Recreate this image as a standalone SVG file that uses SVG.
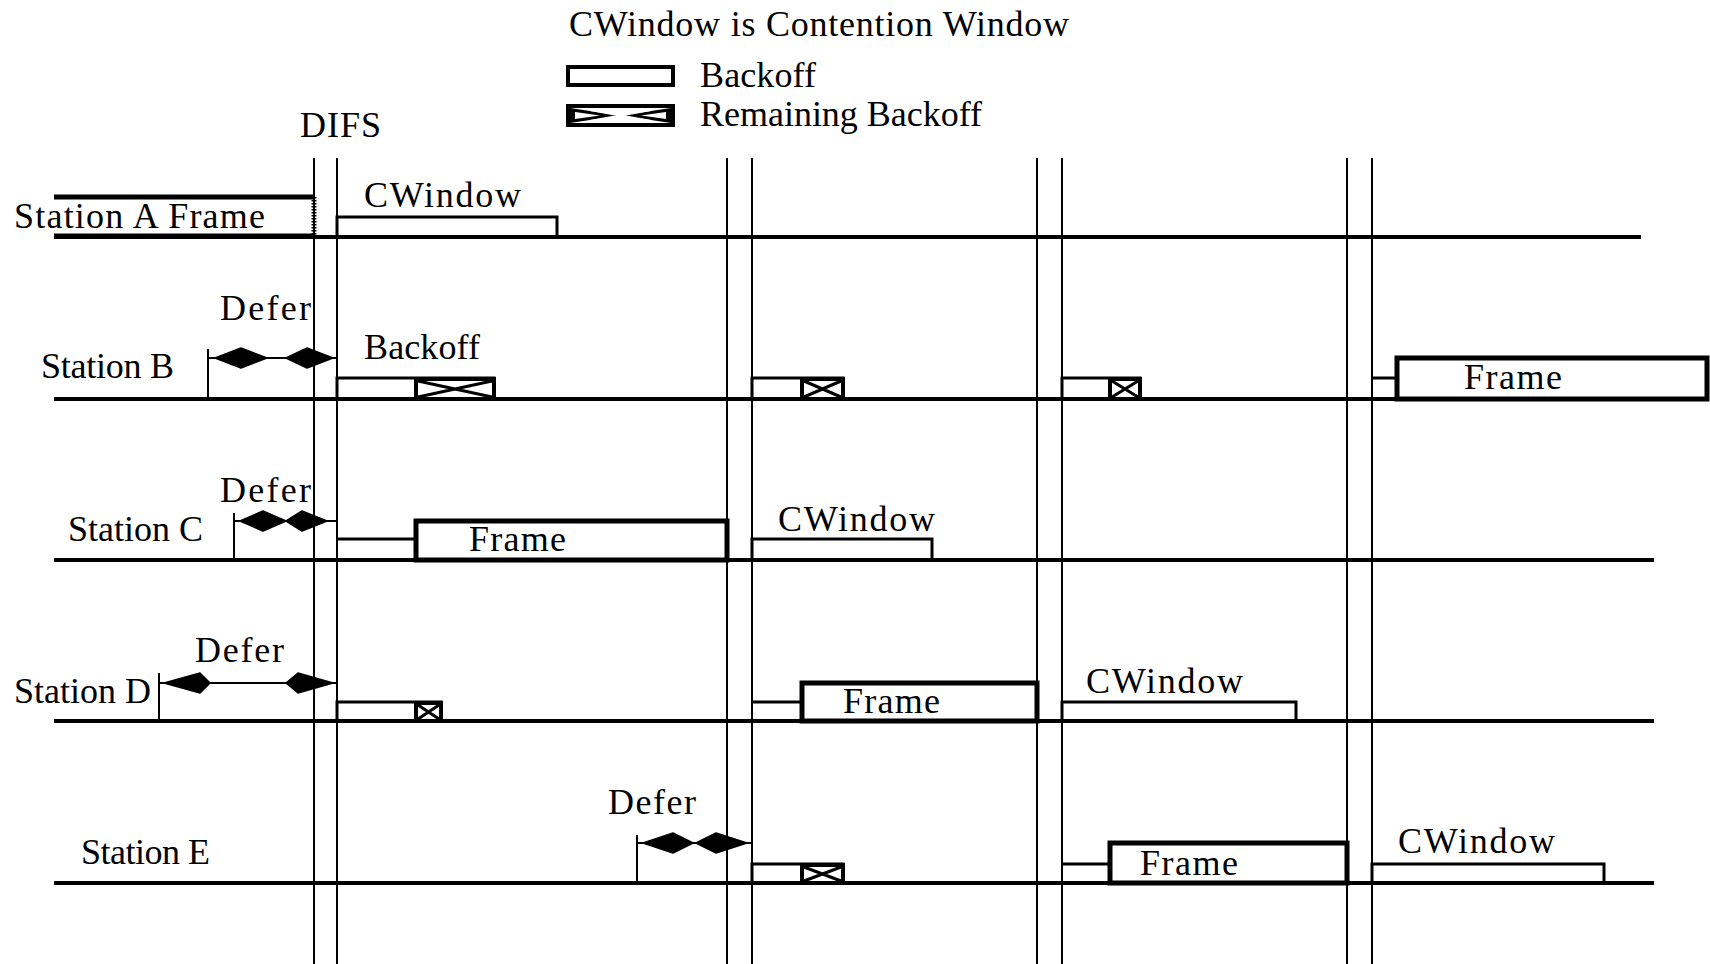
<svg xmlns="http://www.w3.org/2000/svg" width="1710" height="964" viewBox="0 0 1710 964">
<style>
text{font-family:"Liberation Serif","Times New Roman",serif;font-size:36px;fill:#000}
.base{stroke:#000;stroke-width:4;fill:none}
.vl{stroke:#000;stroke-width:2;fill:none}
.bo{stroke:#000;stroke-width:3;fill:none}
.fr{stroke:#000;stroke-width:5;fill:#fff}
.rem{stroke:#000;stroke-width:4;fill:#fff}
.x{stroke:#000;stroke-width:3;fill:none}
.thin{stroke:#000;stroke-width:2;fill:none}
.dia{fill:#000;stroke:#000;stroke-width:1.5;stroke-linejoin:round}
</style>
<rect width="1710" height="964" fill="#fff"/>

<g id="legend">
<text x="569" y="36" textLength="500" lengthAdjust="spacing">CWindow is Contention Window</text>
<rect x="568" y="67" width="105" height="18" class="rem"/>
<text x="700" y="87" textLength="116" lengthAdjust="spacing">Backoff</text>
<rect x="568" y="106" width="105" height="19" class="rem"/>
<polygon points="570,108 620,115.5 570,123" fill="#000"/>
<polygon points="671,108 621,115.5 671,123" fill="#000"/>
<polygon points="575,112 600,115.5 575,119" fill="#fff"/>
<polygon points="666,112 641,115.5 666,119" fill="#fff"/>
<line x1="590" y1="110" x2="651" y2="121" stroke="#fff" stroke-width="2"/>
<line x1="590" y1="121" x2="651" y2="110" stroke="#fff" stroke-width="2"/>
<text x="700" y="126" textLength="282" lengthAdjust="spacing">Remaining Backoff</text>
<text x="300" y="137" textLength="81" lengthAdjust="spacing">DIFS</text>
</g>

<g id="difs-lines">
<line x1="314" y1="158" x2="314" y2="964" class="vl"/>
<line x1="337" y1="158" x2="337" y2="964" class="vl"/>
<line x1="727" y1="158" x2="727" y2="964" class="vl"/>
<line x1="752" y1="158" x2="752" y2="964" class="vl"/>
<line x1="1037" y1="158" x2="1037" y2="964" class="vl"/>
<line x1="1062" y1="158" x2="1062" y2="964" class="vl"/>
<line x1="1347" y1="158" x2="1347" y2="964" class="vl"/>
<line x1="1372" y1="158" x2="1372" y2="964" class="vl"/>
</g>

<g id="station-a">
<line x1="54" y1="237" x2="1641" y2="237" class="base"/>
<line x1="54" y1="236" x2="314" y2="236" stroke="#000" stroke-width="5"/>
<line x1="54" y1="197" x2="314" y2="197" stroke="#000" stroke-width="5"/>
<line x1="314" y1="197" x2="314" y2="237" stroke="#000" stroke-width="5" stroke-dasharray="1.5 1.5"/>
<text x="14" y="228" textLength="251" lengthAdjust="spacing">Station A Frame</text>
<polyline points="337,237 337,217 557,217 557,237" class="bo"/>
<text x="364" y="207" textLength="157" lengthAdjust="spacing">CWindow</text>
</g>

<g id="station-b">
<line x1="54" y1="399" x2="1707" y2="399" class="base"/>
<text x="41" y="378" textLength="133" lengthAdjust="spacing">Station B</text>
<text x="220" y="320" textLength="91" lengthAdjust="spacing">Defer</text>
<text x="364" y="359" textLength="116" lengthAdjust="spacing">Backoff</text>
<polyline points="337,399 337,378 494,378 494,399" class="bo"/>
<rect x="416" y="379" width="78" height="20" class="rem"/>
<path d="M418,381 L492,397 M418,397 L492,381" class="x"/>
<polyline points="752,399 752,378 843,378 843,399" class="bo"/>
<rect x="802" y="379" width="41" height="20" class="rem"/>
<path d="M804,381 L841,397 M804,397 L841,381" class="x"/>
<polyline points="1062,399 1062,378 1140,378 1140,399" class="bo"/>
<rect x="1110" y="379" width="30" height="20" class="rem"/>
<path d="M1112,381 L1138,397 M1112,397 L1138,381" class="x"/>
<line x1="1372" y1="378" x2="1397" y2="378" class="bo"/>
<rect x="1397" y="358" width="310" height="41" class="fr"/>
<text x="1513" y="389" text-anchor="middle" textLength="98" lengthAdjust="spacing">Frame</text>
</g>

<g id="station-c">
<line x1="54" y1="560" x2="1654" y2="560" class="base"/>
<text x="68" y="541" textLength="135" lengthAdjust="spacing">Station C</text>
<text x="220" y="502" textLength="91" lengthAdjust="spacing">Defer</text>
<line x1="337" y1="539" x2="416" y2="539" class="bo"/>
<rect x="416" y="521" width="311" height="39" class="fr"/>
<text x="469" y="551" textLength="97" lengthAdjust="spacing">Frame</text>
<polyline points="752,560 752,539 932,539 932,560" class="bo"/>
<text x="778" y="531" textLength="157" lengthAdjust="spacing">CWindow</text>
</g>

<g id="station-d">
<line x1="54" y1="721" x2="1654" y2="721" class="base"/>
<text x="14" y="703" textLength="137" lengthAdjust="spacing">Station D</text>
<text x="195" y="662" textLength="89" lengthAdjust="spacing">Defer</text>
<polyline points="337,721 337,702 441,702 441,721" class="bo"/>
<rect x="416" y="703" width="25" height="18" class="rem"/>
<path d="M418,705 L439,719 M418,719 L439,705" class="x"/>
<line x1="752" y1="702" x2="802" y2="702" class="bo"/>
<rect x="802" y="683" width="235" height="38" class="fr"/>
<text x="843" y="713" textLength="97" lengthAdjust="spacing">Frame</text>
<polyline points="1062,721 1062,702 1296,702 1296,721" class="bo"/>
<text x="1086" y="693" textLength="157" lengthAdjust="spacing">CWindow</text>
</g>

<g id="station-e">
<line x1="54" y1="883" x2="1654" y2="883" class="base"/>
<text x="81" y="864" textLength="129" lengthAdjust="spacing">Station E</text>
<text x="608" y="814" textLength="88" lengthAdjust="spacing">Defer</text>
<polyline points="752,883 752,864 843,864 843,883" class="bo"/>
<rect x="802" y="865" width="41" height="18" class="rem"/>
<path d="M804,867 L841,881 M804,881 L841,867" class="x"/>
<line x1="1062" y1="864" x2="1110" y2="864" class="bo"/>
<rect x="1110" y="843" width="237" height="40" class="fr"/>
<text x="1140" y="875" textLength="98" lengthAdjust="spacing">Frame</text>
<polyline points="1372,883 1372,864 1604,864 1604,883" class="bo"/>
<text x="1398" y="853" textLength="157" lengthAdjust="spacing">CWindow</text>
</g>

<g id="connectors">
<line x1="208" y1="349" x2="208" y2="399" class="thin"/>
<line x1="208" y1="358" x2="337" y2="358" class="thin"/>
<path d="M215,358 L241,348 L267,358 L241,368 Z" class="dia"/>
<path d="M286,358 L307,348 L333,358 L307,368 Z" class="dia"/>
<line x1="234" y1="513" x2="234" y2="560" class="thin"/>
<line x1="234" y1="521" x2="337" y2="521" class="thin"/>
<path d="M240,521 L263,511 L286,521 L263,531 Z" class="dia"/>
<path d="M286,521 L302,511 L327,521 L302,531 Z" class="dia"/>
<line x1="159" y1="673" x2="159" y2="721" class="thin"/>
<line x1="159" y1="683" x2="337" y2="683" class="thin"/>
<path d="M164,683 L200,673 L210,683 L200,693 Z" class="dia"/>
<path d="M286,683 L298,673 L333,683 L298,693 Z" class="dia"/>
<line x1="637" y1="835" x2="637" y2="883" class="thin"/>
<line x1="637" y1="843" x2="752" y2="843" class="thin"/>
<path d="M643,843 L673,833 L693,843 L673,853 Z" class="dia"/>
<path d="M696,843 L716,833 L747,843 L716,853 Z" class="dia"/>
</g>
</svg>
